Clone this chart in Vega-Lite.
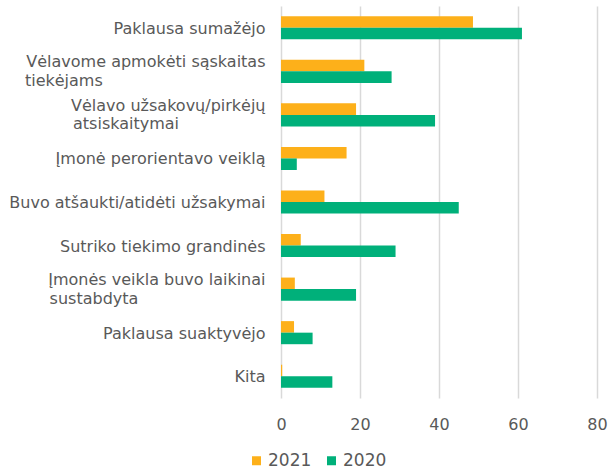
{
  "$schema": "https://vega.github.io/schema/vega-lite/v6.json",
  "width": 316,
  "height": 392,
  "autosize": {"type": "none"},
  "padding": {"left": 281, "top": 6, "right": 12, "bottom": 76},
  "background": "white",
  "config": {
    "view": {"stroke": null},
    "font": "DejaVu Sans"
  },
  "data": {
    "values": [
      {"category": "Paklausa sumažėjo", "year": "2021", "value": 48.6},
      {"category": "Paklausa sumažėjo", "year": "2020", "value": 61.0},
      {"category": "Vėlavome apmokėti sąskaitas tiekėjams", "year": "2021", "value": 21.1},
      {"category": "Vėlavome apmokėti sąskaitas tiekėjams", "year": "2020", "value": 28.0},
      {"category": "Vėlavo užsakovų/pirkėjų atsiskaitymai", "year": "2021", "value": 19.0},
      {"category": "Vėlavo užsakovų/pirkėjų atsiskaitymai", "year": "2020", "value": 39.0},
      {"category": "Įmonė perorientavo veiklą", "year": "2021", "value": 16.6},
      {"category": "Įmonė perorientavo veiklą", "year": "2020", "value": 4.0},
      {"category": "Buvo atšaukti/atidėti užsakymai", "year": "2021", "value": 11.0},
      {"category": "Buvo atšaukti/atidėti užsakymai", "year": "2020", "value": 45.0},
      {"category": "Sutriko tiekimo grandinės", "year": "2021", "value": 5.0},
      {"category": "Sutriko tiekimo grandinės", "year": "2020", "value": 29.0},
      {"category": "Įmonės veikla buvo laikinai sustabdyta", "year": "2021", "value": 3.5},
      {"category": "Įmonės veikla buvo laikinai sustabdyta", "year": "2020", "value": 19.0},
      {"category": "Paklausa suaktyvėjo", "year": "2021", "value": 3.3},
      {"category": "Paklausa suaktyvėjo", "year": "2020", "value": 8.0},
      {"category": "Kita", "year": "2021", "value": 0.3},
      {"category": "Kita", "year": "2020", "value": 13.0}
    ]
  },
  "mark": {"type": "bar"},
  "encoding": {
    "y": {
      "field": "category",
      "type": "nominal",
      "sort": null,
      "scale": {"paddingInner": 0.47, "paddingOuter": 0.235},
      "axis": {
        "title": null,
        "domain": false,
        "ticks": false,
        "labelFontSize": 16,
        "labelColor": "#595959",
        "labelPadding": 16,
        "labelLimit": 500,
        "labelLineHeight": 18.5,
        "labelOffset": {
          "condition": {
            "test": "indexof(['Vėlavome apmokėti sąskaitas tiekėjams', 'Vėlavo užsakovų/pirkėjų atsiskaitymai', 'Įmonės veikla buvo laikinai sustabdyta'], datum.value) >= 0",
            "value": -9
          },
          "value": 1
        },
        "labelExpr": "datum.value == 'Vėlavome apmokėti sąskaitas tiekėjams' ? ['Vėlavome apmokėti sąskaitas', pad('tiekėjams', 41, '\u00a0') + '\u200b'] : datum.value == 'Vėlavo užsakovų/pirkėjų atsiskaitymai' ? ['Vėlavo užsakovų/pirkėjų', pad('atsiskaitymai', 30, '\u00a0') + '\u200b'] : datum.value == 'Įmonės veikla buvo laikinai sustabdyta' ? ['Įmonės veikla buvo laikinai', pad('sustabdyta', 35, '\u00a0') + '\u200b'] : datum.value"
      }
    },
    "yOffset": {
      "field": "year",
      "type": "nominal",
      "sort": ["2021", "2020"]
    },
    "x": {
      "field": "value",
      "type": "quantitative",
      "scale": {"domain": [0, 80], "nice": false},
      "axis": {
        "title": null,
        "values": [0, 20, 40, 60, 80],
        "domain": false,
        "ticks": false,
        "grid": true,
        "gridColor": "#d9d9d9",
        "gridWidth": 1.5,
        "labelFontSize": 16,
        "labelColor": "#595959",
        "labelPadding": 18,
        "labelFlush": false
      }
    },
    "color": {
      "field": "year",
      "type": "nominal",
      "sort": ["2021", "2020"],
      "scale": {"domain": ["2021", "2020"], "range": ["#FDB01A", "#00B07A"]},
      "legend": {
        "title": null,
        "orient": "none",
        "direction": "horizontal",
        "legendX": -33,
        "legendY": 446,
        "symbolType": "square",
        "symbolSize": 81,
        "symbolStrokeWidth": 0,
        "labelFontSize": 17,
        "labelColor": "#595959",
        "labelOffset": 3,
        "columnPadding": 11,
        "padding": 0
      }
    }
  }
}
